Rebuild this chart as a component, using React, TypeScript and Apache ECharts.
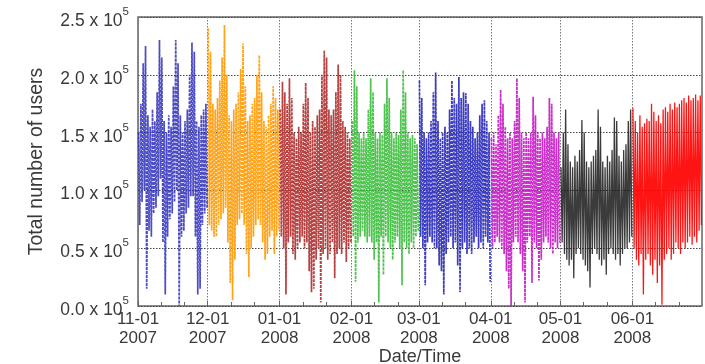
import React, { useEffect, useRef } from 'react';
import * as echarts from 'echarts';

// Daily high / low values, thousands of users, alternating [high, low] per day
const nov2007 = [150,70, 175,90, 210,100, 225,15, 165,65, 155,60, 170,80, 160,85, 185,95, 230,110, 215,55, 160,10, 150,60, 165,75, 155,80, 190,90, 230,100, 210,0, 165,60, 150,65, 160,80, 170,85, 200,95, 228,95, 220,60, 160,10, 155,15, 165,70, 170,80, 175,85];
const dec2007 = [240,70, 220,65, 175,60, 170,60, 180,70, 195,75, 215,80, 243,85, 200,55, 165,20, 160,5, 170,40, 175,70, 185,75, 205,80, 227,70, 190,45, 160,25, 165,50, 175,60, 180,70, 200,75, 217,70, 185,55, 160,40, 155,45, 165,60, 175,65, 190,45, 180,60, 170,65];
const jan2008 = [170,60, 194,50, 185,10, 175,55, 197,60, 180,45, 150,40, 145,50, 155,55, 150,60, 175,50, 193,55, 180,30, 150,12, 160,15, 155,40, 165,50, 170,3, 200,45, 221,50, 215,40, 170,45, 165,55, 170,24, 185,45, 209,50, 200,45, 160,55, 155,38, 150,50, 145,55];
const feb2008 = [160,60, 204,21, 190,55, 150,60, 145,65, 150,60, 145,55, 170,60, 197,55, 185,40, 150,55, 145,3, 150,60, 148,27, 175,60, 197,55, 180,50, 150,40, 145,55, 150,60, 148,50, 170,18, 204,55, 185,50, 150,45, 145,55, 148,50, 145,60, 140,65];
const mar2008 = [195,60, 180,50, 150,18, 145,55, 150,60, 160,55, 185,50, 202,50, 160,35, 145,30, 150,10, 155,45, 150,55, 170,60, 195,50, 180,55, 175,35, 198,12, 180,50, 185,55, 184,45, 175,50, 160,45, 155,55, 145,60, 150,50, 165,55, 175,50, 178,60, 160,55, 150,21];
const apr2008 = [145,50, 150,55, 140,60, 165,55, 187,50, 175,45, 155,30, 145,15, 150,0, 145,55, 160,60, 197,55, 180,45, 150,30, 145,3, 150,55, 145,60, 150,20, 181,55, 165,50, 150,22, 145,40, 150,55, 145,60, 155,55, 180,50, 175,45, 150,55, 145,50, 150,55];
const may2008 = [120,55, 150,45, 170,40, 140,35, 125,40, 120,24, 130,45, 125,50, 135,45, 161,40, 150,35, 125,30, 120,16, 125,45, 130,50, 135,45, 170,40, 155,35, 125,40, 120,27, 130,45, 125,50, 135,45, 163,40, 160,45, 130,35, 125,45, 135,50, 140,50, 160,55, 170,60];
const jun2008 = [171,50, 160,40, 150,35, 165,45, 155,10, 158,40, 162,45, 160,35, 175,27, 168,40, 160,20, 165,35, 158,1, 170,40, 172,45, 168,50, 175,40, 170,45, 176,55, 172,50, 175,45, 178,55, 180,50, 176,55, 182,60, 178,53, 180,60, 183,55, 178,65, 182,70];

const months = [nov2007, dec2007, jan2008, feb2008, mar2008, apr2008, may2008, jun2008];
const monthLabels = ['11-01\n2007', '12-01\n2007', '01-01\n2008', '02-01\n2008', '03-01\n2008', '04-01\n2008', '05-01\n2008', '06-01\n2008'];
const seriesColors = ['rgba(45,45,185,0.85)', '#ffa419', 'rgba(175,45,45,0.9)', 'rgba(50,185,50,0.85)', 'rgba(40,40,185,0.9)', 'rgba(195,25,195,0.9)', 'rgba(25,25,25,0.85)', 'rgba(255,0,0,0.92)'];
const dottedStyle = [true, true, true, true, true, true, false, false];

const FONT = '"Liberation Sans", Arial, sans-serif';
const TEXT = '#3a3a3a';

export default function App() {
  const ref = useRef<HTMLDivElement>(null);
  useEffect(() => {
    if (!ref.current) return;
    const chart = echarts.init(ref.current, null, { renderer: 'svg' });

    const monthStarts: number[] = [];
    let acc = 0;
    months.forEach((m) => { monthStarts.push(acc); acc += m.length / 2; });
    const totalDays = acc;
    const minorTicks: number[] = [];
    monthStarts.forEach((s) => { minorTicks.push(s + 10, s + 20); });

    const series = months.map((m, k) => ({
      type: 'line',
      name: monthLabels[k],
      xAxisIndex: 0,
      data: m.map((v, i) => [monthStarts[k] + Math.floor(i / 2) + (i % 2 ? 0.75 : 0.25), v * 1000]),
      showSymbol: false,
      symbol: 'none',
      lineStyle: { color: seriesColors[k], width: dottedStyle[k] ? 1.7 : 1.3, type: dottedStyle[k] ? [3, 1] : 'solid' },
      z: 3,
    }));

    chart.setOption({
      animation: false,
      textStyle: { fontFamily: FONT },
      grid: {
        left: 138, right: 3, top: 17, bottom: 58, show: true, borderColor: '#666', borderWidth: 1.5,
        backgroundColor: 'transparent', containLabel: false, outerBoundsMode: 'none',
      },
      xAxis: [
        {
          type: 'value', min: 0, max: totalDays,
          name: 'Date/Time', nameLocation: 'middle', nameGap: 41, nameMoveOverlap: false,
          nameTextStyle: { fontSize: 18, lineHeight: 17, color: TEXT, fontFamily: FONT },
          axisLine: { show: false },
          axisTick: { show: true, inside: true, length: 5, customValues: monthStarts, lineStyle: { color: '#666' } },
          axisLabel: {
            customValues: monthStarts,
            formatter: (v: number) => monthLabels[monthStarts.indexOf(v)] ?? '',
            fontSize: 17, lineHeight: 19, color: TEXT, margin: 3, fontFamily: FONT,
          },
          splitLine: { show: true, lineStyle: { type: [1.5, 1.5], color: '#777', width: 1 } },
        },
        {
          type: 'value', min: 0, max: totalDays, position: 'bottom',
          axisLine: { show: false }, axisLabel: { show: false },
          axisTick: { show: true, inside: true, length: 4, customValues: minorTicks, lineStyle: { color: '#666' } },
          splitLine: { show: false },
        },
      ],
      yAxis: {
        type: 'value', min: 0, max: 250000, interval: 50000,
        name: 'Total number of users', nameLocation: 'middle', nameGap: 93, nameMoveOverlap: false,
        nameTextStyle: { fontSize: 19.5, color: TEXT, fontFamily: FONT },
        axisLine: { show: false }, axisTick: { show: false },
        splitLine: { show: true, lineStyle: { type: [1.5, 1.5], color: '#444', width: 1 } },
        axisLabel: {
          margin: 9,
          formatter: (v: number) => `{a|${(v / 100000).toFixed(1)} x 10}{s|5}`,
          rich: {
            a: { fontSize: 17.5, color: TEXT, fontFamily: FONT, lineHeight: 24, verticalAlign: 'bottom' },
            s: { fontSize: 11.5, color: TEXT, fontFamily: FONT, lineHeight: 24, verticalAlign: 'top' },
          },
        },
      },
      series,
    });
    return () => chart.dispose();
  }, []);
  return <div ref={ref} style={{ position: 'fixed', left: 0, top: 0, width: 705, height: 364 }} />;
}
